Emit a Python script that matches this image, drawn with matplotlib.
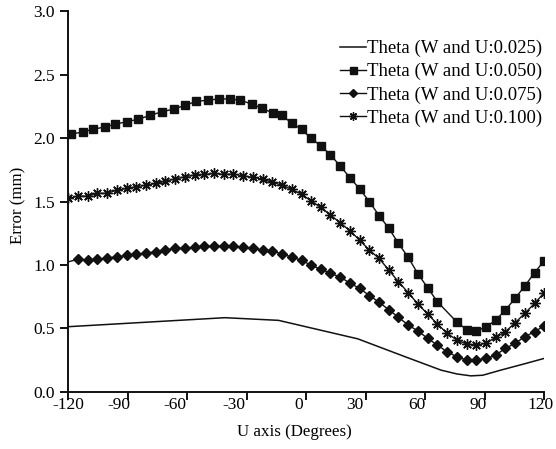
import matplotlib
matplotlib.use("Agg")
import matplotlib.pyplot as plt
import matplotlib.transforms as mtransforms

# ---------------- data ----------------
x_grid = [-120.0, -115.1, -110.2, -105.3, -100.4, -95.5, -90.6, -85.7, -80.8, -75.9,
          -71.0, -66.1, -61.2, -56.3, -51.4, -46.5, -41.6, -36.7, -31.8, -26.9,
          -22.0, -17.1, -12.2, -7.3, -2.4, 2.4, 7.3, 12.2, 17.1, 22.0,
          26.9, 31.8, 36.7, 41.6, 46.5, 51.4, 56.3, 61.2, 66.1, 71.0,
          75.9, 80.8, 85.7, 90.6, 95.5, 100.4, 105.3, 110.2, 115.1, 120.0]

x_025 = [-120, -41, -14, 26, 50, 62, 68, 76, 83, 89, 98, 110, 120]
y_025 = [0.513, 0.584, 0.563, 0.417, 0.275, 0.205, 0.170, 0.140, 0.125, 0.130, 0.170, 0.220, 0.263]

x_050 = [-118.5, -112.7, -107.4, -101.5, -96.5, -90.6, -84.7, -78.8, -72.6, -66.7,
         -61.2, -55.6, -49.8, -44.1, -38.5, -33.2, -27.6, -22.2, -17.0, -12.4,
         -7.3, -2.4, 2.4, 7.3, 12.2, 17.1, 22.0, 26.9, 31.8, 36.7,
         41.6, 46.5, 51.4, 56.3, 61.2, 66.1, 75.9, 80.8, 85.7, 90.6,
         95.5, 100.4, 105.3, 110.2, 115.1, 120.0]
y_050 = [2.032, 2.05, 2.07, 2.09, 2.11, 2.13, 2.15, 2.18, 2.21, 2.23,
         2.26, 2.29, 2.30, 2.31, 2.31, 2.30, 2.27, 2.235, 2.20, 2.18,
         2.12, 2.07, 2.00, 1.94, 1.87, 1.78, 1.69, 1.60, 1.50, 1.39,
         1.29, 1.17, 1.06, 0.93, 0.82, 0.71, 0.55, 0.49, 0.48, 0.51,
         0.565, 0.644, 0.737, 0.834, 0.939, 1.035]

y_075 = [1.025, 1.045, 1.036, 1.045, 1.055, 1.063, 1.076, 1.084, 1.092, 1.104,
         1.118, 1.131, 1.131, 1.139, 1.149, 1.149, 1.149, 1.149, 1.139, 1.131,
         1.118, 1.112, 1.085, 1.063, 1.036, 0.999, 0.965, 0.934, 0.905, 0.857,
         0.815, 0.759, 0.706, 0.647, 0.587, 0.526, 0.479, 0.421, 0.368, 0.315,
         0.276, 0.250, 0.250, 0.263, 0.289, 0.342, 0.382, 0.434, 0.473, 0.520]

y_100 = [1.525, 1.543, 1.543, 1.565, 1.565, 1.591, 1.604, 1.617, 1.630, 1.643,
         1.662, 1.678, 1.696, 1.709, 1.714, 1.722, 1.714, 1.717, 1.703, 1.691,
         1.678, 1.651, 1.630, 1.596, 1.559, 1.506, 1.454, 1.394, 1.333, 1.270,
         1.196, 1.117, 1.052, 0.960, 0.867, 0.781, 0.692, 0.613, 0.534, 0.461,
         0.408, 0.376, 0.368, 0.382, 0.429, 0.473, 0.544, 0.618, 0.697, 0.781]

labels = ["Theta (W and U:0.025)", "Theta (W and U:0.050)",
          "Theta (W and U:0.075)", "Theta (W and U:0.100)"]
x_ticks = [-120, -90, -60, -30, 0, 30, 60, 90, 120]
y_ticks = [0.0, 0.5, 1.0, 1.5, 2.0, 2.5, 3.0]

# ---------------- style ----------------
plt.rcParams['font.family'] = ['Liberation Serif', 'DejaVu Serif']
C = '#111111'

fig = plt.figure(figsize=(5.56, 4.49), dpi=100)
ax = fig.add_axes([0.1228, 0.1276, 0.8561, 0.8468])

ax.plot(x_025, y_025, color=C, lw=1.1, label=labels[0])
ax.plot(x_050, y_050, color=C, lw=1.0, marker='s', ms=6.3, mfc=C, mec=C,
        label=labels[1])
ax.plot(x_grid, y_075, color=C, lw=1.0, marker='D', ms=4.8, mfc=C, mec=C,
        markevery=list(range(1, len(x_grid))), label=labels[2])
ax.plot(x_grid, y_100, color=C, lw=1.0, marker=(8, 2, 0), ms=7.5, mew=1.0,
        mec=C, label=labels[3])

ax.set_xlim(-120, 120)
ax.set_ylim(0, 3.0)
ax.set_xticks(x_ticks)
ax.set_xticklabels([str(v) for v in x_ticks])
ax.set_yticks(y_ticks)
ax.set_yticklabels([f"{v:.1f}" for v in y_ticks])

for s in ['top', 'right']:
    ax.spines[s].set_visible(False)
for s in ['left', 'bottom']:
    ax.spines[s].set_linewidth(1.4)
    ax.spines[s].set_color(C)

ax.tick_params(axis='both', direction='out', length=6, width=1.4, colors=C,
               labelsize=12.5, labelcolor='black')
ax.tick_params(axis='x', pad=-2.0)
ax.tick_params(axis='y', pad=3.5)

ax.set_xlabel("U axis (Degrees)", fontsize=12.2)
ax.xaxis.set_label_coords(0.476, -0.086)
ax.set_ylabel("Error (mm)", fontsize=12.2)
ax.yaxis.set_label_coords(-0.089, 0.49)

leg = ax.legend(loc='upper right', bbox_to_anchor=(0.996, 0.925), frameon=False,
                fontsize=13.5, handlelength=1.4, handletextpad=0.05,
                labelspacing=0.31, borderpad=0.0, borderaxespad=0.0,
                markerscale=0.8)

fig.canvas.draw()
offsets = [0, -9, -12, -13, -8, -11, -8, -7, -4]
for lab, dx in zip(ax.get_xticklabels(), offsets):
    lab.set_transform(lab.get_transform() +
                      mtransforms.ScaledTranslation(dx / 100.0, 0, fig.dpi_scale_trans))

fig.savefig("out.png", dpi=100)
